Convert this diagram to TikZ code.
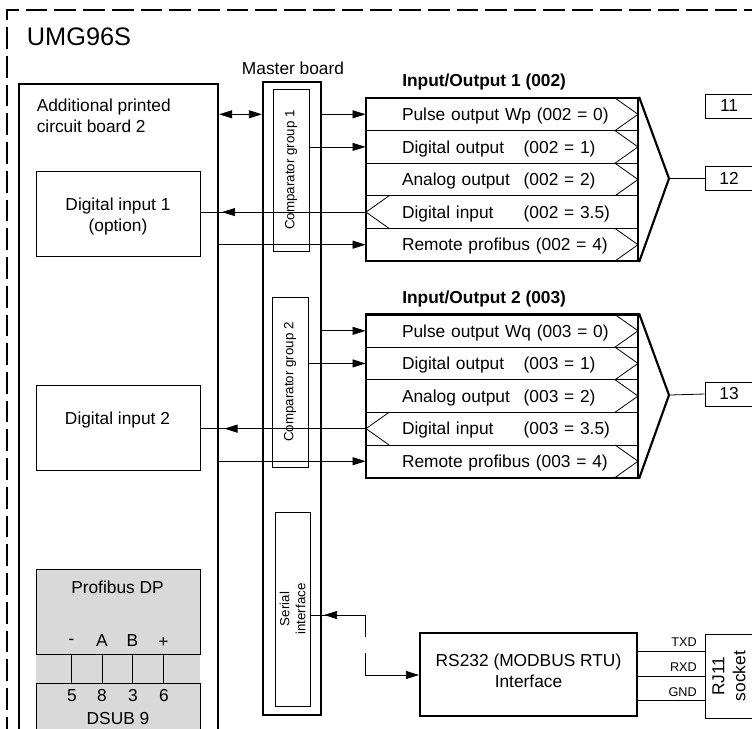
\documentclass[tikz,border=0pt]{standalone}
\usepackage{fontspec}
\setmainfont{Liberation Sans}
\usepackage{xcolor}
\usepackage{tikz}
\usetikzlibrary{positioning,arrows.meta}
\definecolor{panelgray}{HTML}{D9D9D9}
\newcommand{\rowtxt}[2]{\mbox{\makebox[91.3pt][l]{#1}#2}}
\tikzset{
  link/.style={draw, line width=0.6pt},
  arrow/.style={link, -{Triangle[length=9.8pt,width=6pt]}},
  heavy/.style={draw, line width=1.6pt},
  txt/.style={inner sep=0pt, align=left},
  block/.style={draw, line width=0.6pt, align=center},
  panel/.style={draw, line width=0.6pt, fill=panelgray},
  sidebox/.style={block, rotate=90, font=\fontsize{10}{12}\selectfont},
  pinlabel/.style={inner sep=0pt},
  wirelabel/.style={inner sep=0pt, anchor=east, font=\fontsize{9.5}{11}\selectfont},
  terminal/.style={block, minimum width=36pt, minimum height=18pt, inner sep=0pt},
  iorow/.style={draw, line width=0.6pt, minimum width=204pt, minimum height=24.5pt, inner xsep=27pt, inner ysep=0pt, text width=150pt, text depth=0pt, align=left},
  outrow/.style={iorow, path picture={
    \draw[link] ([xshift=-17.3pt]path picture bounding box.north east) -- (path picture bounding box.east) -- ([xshift=-17.3pt]path picture bounding box.south east);}},
  inrow/.style={iorow, path picture={
    \draw[link] ([xshift=17.3pt]path picture bounding box.north west) -- (path picture bounding box.west) -- ([xshift=17.3pt]path picture bounding box.south west);}},
  iobox/.style={heavy, minimum width=204pt, minimum height=122.3pt, inner sep=0pt}
}
\begin{document}
\begin{tikzpicture}[x=0.75pt, y=-0.75pt, font=\fontsize{13}{15.75}\selectfont]
  \useasboundingbox (0,0) rectangle (752,728);

  \coordinate (framebl) at (7,738.5);
  \coordinate (frametl) at (7,10);
  \coordinate (frametr) at (770,10);
  \draw[heavy, dash pattern=on 16.3pt off 5.25pt] (framebl) -- (frametl) -- (frametr);
  \node[txt, font=\fontsize{19}{22}\selectfont] (title) at (79,36.5) {UMG96S};

  \node[heavy, minimum width=149.3pt, minimum height=507pt, inner sep=0pt] (board) at (118.5,422) {};
  \node[txt, anchor=north west] (boardname) at (36.5,98.5) {Additional printed\\circuit board 2};
  \node[block, minimum width=123pt, minimum height=63.8pt, inner sep=0pt] (dig1) at (118,213.5) {};
  \node[txt, align=center] (dig1name) at (118,216.5) {Digital input 1\\(option)};
  \node[block, minimum width=123pt, minimum height=63.8pt, inner sep=0pt] (dig2) at (118,427.5) {};
  \node[txt] (dig2name) at (117.5,420.5) {Digital input 2};

  \node[fill=panelgray, minimum width=123pt, minimum height=22pt, inner sep=0pt] (strip) at (118,668.5) {};
  \node[panel, minimum width=123pt, minimum height=63.8pt, inner sep=0pt] (profibus) at (118,611.5) {};
  \node[panel, minimum width=123pt, minimum height=60pt, inner sep=0pt] (dsub) at (118,723) {};
  \node[txt] (profibusname) at (117.5,587.5) {Profibus DP};
  \node[pinlabel] (pm) at (71.5,642) {-};
  \node[pinlabel] (pa) at (102,641) {A};
  \node[pinlabel] (pb) at (132.5,641) {B};
  \node[pinlabel] (pp) at (163.5,642) {+};
  \node[pinlabel] (d5) at (72,695.5) {5};
  \node[pinlabel] (d8) at (102,695.5) {8};
  \node[pinlabel] (d3) at (133,695.5) {3};
  \node[pinlabel] (d6) at (164,695.5) {6};
  \node[txt] (dsubname) at (118,718.5) {DSUB 9};
  \draw[link] (pm |- profibus.south) -- (pm |- dsub.north);
  \draw[link] (pa |- profibus.south) -- (pa |- dsub.north);
  \draw[link] (pb |- profibus.south) -- (pb |- dsub.north);
  \draw[link] (pp |- profibus.south) -- (pp |- dsub.north);

  \node[txt] (mastername) at (293,68) {Master board};
  \node[heavy, minimum width=43.5pt, minimum height=474.8pt, inner sep=0pt] (master) at (292,398.5) {};
  \node[sidebox, minimum width=121.5pt, minimum height=27pt, inner sep=0pt] (cmp1) at (291,170) {Comparator group 1};
  \node[sidebox, minimum width=127.5pt, minimum height=27pt, inner sep=0pt] (cmp2) at (290,382) {Comparator group 2};
  \node[sidebox, minimum width=145.5pt, minimum height=26.3pt, inner sep=0pt] (serial) at (292.5,609) {Serial\\interface};

  \begin{scope}
    \node[txt, anchor=west, font=\fontsize{13}{16}\selectfont\bfseries] (iotitle1) at (402,82) {Input/Output 1 (002)};
    \node[outrow] (r11) at (502,114.3) {\mbox{Pulse output Wp (002 = 0)}};
    \node[outrow] (r12) at (502,146.9) {\rowtxt{Digital output}{(002 = 1)}};
    \node[outrow] (r13) at (502,179.5) {\rowtxt{Analog output}{(002 = 2)}};
    \node[inrow] (r14) at (502,212.1) {\rowtxt{Digital input}{(002 = 3.5)}};
    \node[outrow] (r15) at (502,244.7) {\mbox{Remote profibus (002 = 4)}};
    \node[iobox] (io1) at (502,179.5) {};
    \coordinate (tip1) at (669,178.5);
    \draw[heavy] (io1.north east) -- (tip1) -- (io1.south east);
  \end{scope}

  \begin{scope}[yshift=-162.4pt]
    \node[txt, anchor=west, font=\fontsize{13}{16}\selectfont\bfseries] (iotitle2) at (402,82) {Input/Output 2 (003)};
    \node[outrow] (r21) at (502,114.3) {\mbox{Pulse output Wq (003 = 0)}};
    \node[outrow] (r22) at (502,146.9) {\rowtxt{Digital output}{(003 = 1)}};
    \node[outrow] (r23) at (502,179.5) {\rowtxt{Analog output}{(003 = 2)}};
    \node[inrow] (r24) at (502,212.1) {\rowtxt{Digital input}{(003 = 3.5)}};
    \node[outrow] (r25) at (502,244.7) {\mbox{Remote profibus (003 = 4)}};
    \node[iobox] (io2) at (502,179.5) {};
    \coordinate (tip2) at (669,178.5);
    \draw[heavy] (io2.north east) -- (tip2) -- (io2.south east);
  \end{scope}

  \node[terminal] (t11) at (729,106) {11};
  \node[terminal] (t12) at (729,178.5) {12};
  \node[terminal] (t13) at (729,394) {13};
  \draw[link] (tip1) -- (t12.west);
  \draw[link] (tip2) -- (t13.west);

  \draw[link, <->, >={Triangle[length=9.8pt,width=6pt]}] (board.east |- r11.west) -- (master.west |- r11.west);
  \draw[arrow] (master.east |- r11.west) -- (r11.west);
  \draw[arrow] (cmp1.south |- r12.west) -- (r12.west);
  \draw[link] (r14.west) -- (dig1.east |- r14.west);
  \draw[arrow, shorten >=2.2pt] (r14.west) -- (board.east |- r14.west);
  \draw[arrow] (board.east |- r15.west) -- (r15.west);

  \draw[arrow] (master.east |- r21.west) -- (r21.west);
  \draw[arrow] (cmp2.south |- r22.west) -- (r22.west);
  \draw[link] (r24.west) -- (dig2.east |- r24.west);
  \draw[arrow, shorten >=4pt] (r24.west) -- (board.east |- r24.west);
  \draw[arrow] (board.east |- r25.west) -- (r25.west);

  \node[draw, line width=1.3pt, minimum width=163pt, minimum height=62.3pt, inner sep=0pt] (rs232) at (528.5,674.5) {};
  \node[txt, align=center] (rs232name) at (528.5,671) {RS232 (MODBUS RTU)\\Interface};
  \node[block, rotate=90, minimum width=63pt, minimum height=36pt, inner sep=0pt] (rj11) at (729,676) {RJ11\\socket};
  \coordinate (txdend) at (rs232.east |- 0,651);
  \coordinate (gndend) at (rs232.east |- 0,700.5);
  \draw[link] (txdend) -- (rj11.north |- txdend);
  \draw[link] (rs232.east |- 0,676) -- (rj11.north |- 0,676);
  \draw[link] (gndend) -- (rj11.north |- gndend);
  \node[wirelabel] (txd) at (697,642) {TXD};
  \node[wirelabel] (rxd) at (697,667) {RXD};
  \node[wirelabel] (gnd) at (697,692) {GND};

  \coordinate (bustop) at (365,615);
  \coordinate (busgapa) at (365,637);
  \coordinate (busgapb) at (365,653);
  \coordinate (busend) at (365,675);
  \draw[link] (busgapa) -- (bustop) -- (serial.south |- bustop);
  \draw[arrow, shorten >=1.5pt] (bustop) -- (master.east |- bustop);
  \draw[link] (busgapb) -- (busend);
  \draw[arrow] (busend) -- (rs232.west |- busend);
\end{tikzpicture}
\end{document}
